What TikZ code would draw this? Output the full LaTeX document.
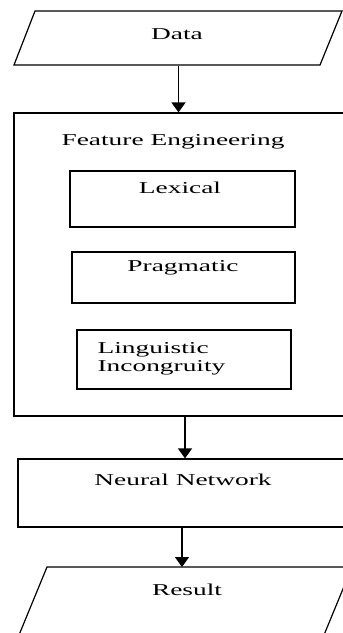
\documentclass[tikz,border=0pt]{standalone}
\usepackage{fontspec}
\setmainfont[FakeStretch=1.65]{Liberation Serif}
\usetikzlibrary{arrows.meta}
\begin{document}
\begin{tikzpicture}[x=1pt,y=-1pt,
  line width=1.2pt,
  box/.style={draw, rectangle, inner sep=0pt},
  ghost/.style={draw=none, rectangle, inner sep=0pt},
  lbl/.style={inner sep=0pt, font=\fontsize{16.6}{19}\selectfont},
  arr/.style={-{Triangle[width=14pt,length=10pt]}}]
\useasboundingbox (0,0) rectangle (343,633);
\clip (0,0) rectangle (343,633);
% Data
\node[ghost, minimum width=307, minimum height=54] (data) at (178.5,38) {};
\draw (35,11) -- (342,11) -- (320,65) -- (14,65) -- cycle;
\node[lbl] (datat) at (177,34) {Data};
% Feature Engineering
\node[box, minimum width=342, minimum height=303] (feat) at (185,264.5) {};
\node[lbl] (featt) at (173,142) {Feature Engineering};
\node[box, minimum width=225, minimum height=56] (lex) at (182.5,199) {};
\node[lbl] (lext) at (180,188) {Lexical};
\node[box, minimum width=223, minimum height=51] (prag) at (183.5,277.5) {};
\node[lbl] (pragt) at (183,268) {Pragmatic};
\node[box, minimum width=214, minimum height=59] (ling) at (184,359.5) {};
\node[lbl, anchor=west, align=left] (lingt) at (97,359) {Linguistic\\[-1pt]Incongruity};
% Neural Network
\node[box, minimum width=334, minimum height=68] (nn) at (185,493) {};
\node[lbl] (nnt) at (183,480) {Neural Network};
% Result
\coordinate (res) at (182,567);
\draw (47,567) -- (352,567) -- (317,652) -- (12,652) -- cycle;
\node[lbl] (rest) at (187,590) {Result};
% connectors
\draw[arr] (data.south) -- (data.south |- feat.north);
\draw[arr] (feat.south) -- (nn.north);
\draw[arr] (nn.south -| res) -- (res);
\end{tikzpicture}
\end{document}
